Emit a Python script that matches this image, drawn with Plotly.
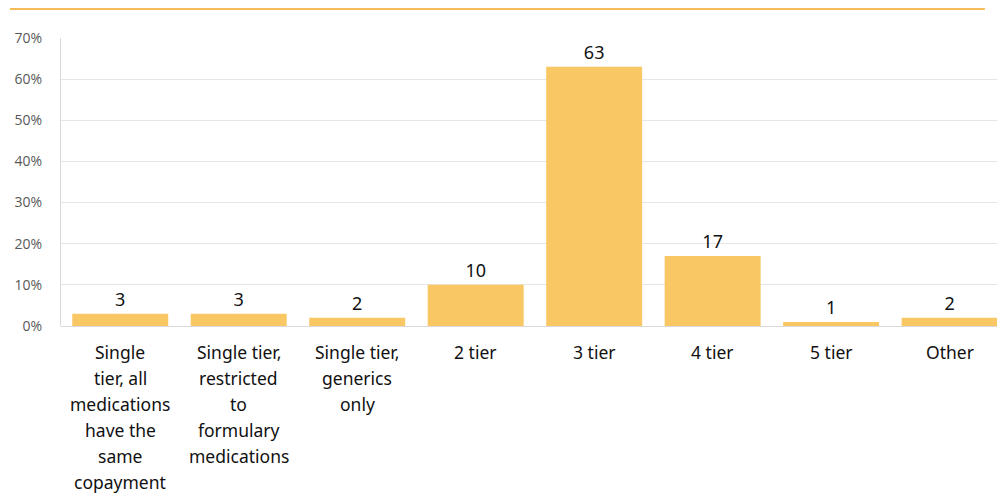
import plotly.graph_objects as go

# Copayment structure categories and share of plans (%)
categories = ["Single tier, all medications have the same copayment",
              "Single tier, restricted to formulary medications",
              "Single tier, generics only",
              "2 tier", "3 tier", "4 tier", "5 tier", "Other"]
label_lines = [
    ["Single", "tier, all", "medications", "have the", "same", "copayment"],
    ["Single tier,", "restricted", "to", "formulary", "medications"],
    ["Single tier,", "generics", "only"],
    ["2 tier"], ["3 tier"], ["4 tier"], ["5 tier"], ["Other"],
]
values = [3, 3, 2, 10, 63, 17, 1, 2]
y_ticks = [0, 10, 20, 30, 40, 50, 60, 70]
y_tick_text = ["0%", "10%", "20%", "30%", "40%", "50%", "60%", "70%"]

BAR = "#F9C865"
FONT = "Noto Sans"

fig = go.Figure(go.Bar(
    x=categories, y=values,
    marker=dict(color=BAR, line=dict(width=0)),
    text=[str(v) for v in values],
    textposition="outside",
    textfont=dict(family=FONT, size=18, color="#111111"),
    cliponaxis=False,
))

# Multi-line category labels under each bar
annotations = []
for cat, lines in zip(categories, label_lines):
    for i, line in enumerate(lines):
        annotations.append(dict(
            x=cat, xref="x", y=0, yref="paper",
            yanchor="middle", yshift=-26 - 26 * i,
            text=line, showarrow=False,
            font=dict(family=FONT, size=17.5, color="#111111"),
        ))

fig.update_layout(
    width=997, height=493,
    margin=dict(l=61, r=0, t=38, b=167),
    paper_bgcolor="white", plot_bgcolor="white",
    bargap=0.19,
    showlegend=False,
    annotations=annotations,
    shapes=[dict(type="line", xref="paper", yref="paper",
                 x0=-0.0545, x1=0.987, y0=1.1007, y1=1.1007,
                 line=dict(color="#F3A322", width=1.3))],
    xaxis=dict(range=[-0.5, 7.4], showticklabels=False, ticks="",
               showgrid=False, showline=False, zeroline=False),
    yaxis=dict(range=[0, 70], tickvals=y_ticks, ticktext=y_tick_text,
               tickfont=dict(family="Open Sans", size=14, color="#595959"),
               showgrid=True, gridcolor="#E6E6E6", gridwidth=1,
               showline=True, linecolor="#D9D9D9", linewidth=1,
               zeroline=True, zerolinecolor="#D9D9D9", zerolinewidth=1,
               ticks="", ticklabelstandoff=15),
)

fig.write_html("out.html")
